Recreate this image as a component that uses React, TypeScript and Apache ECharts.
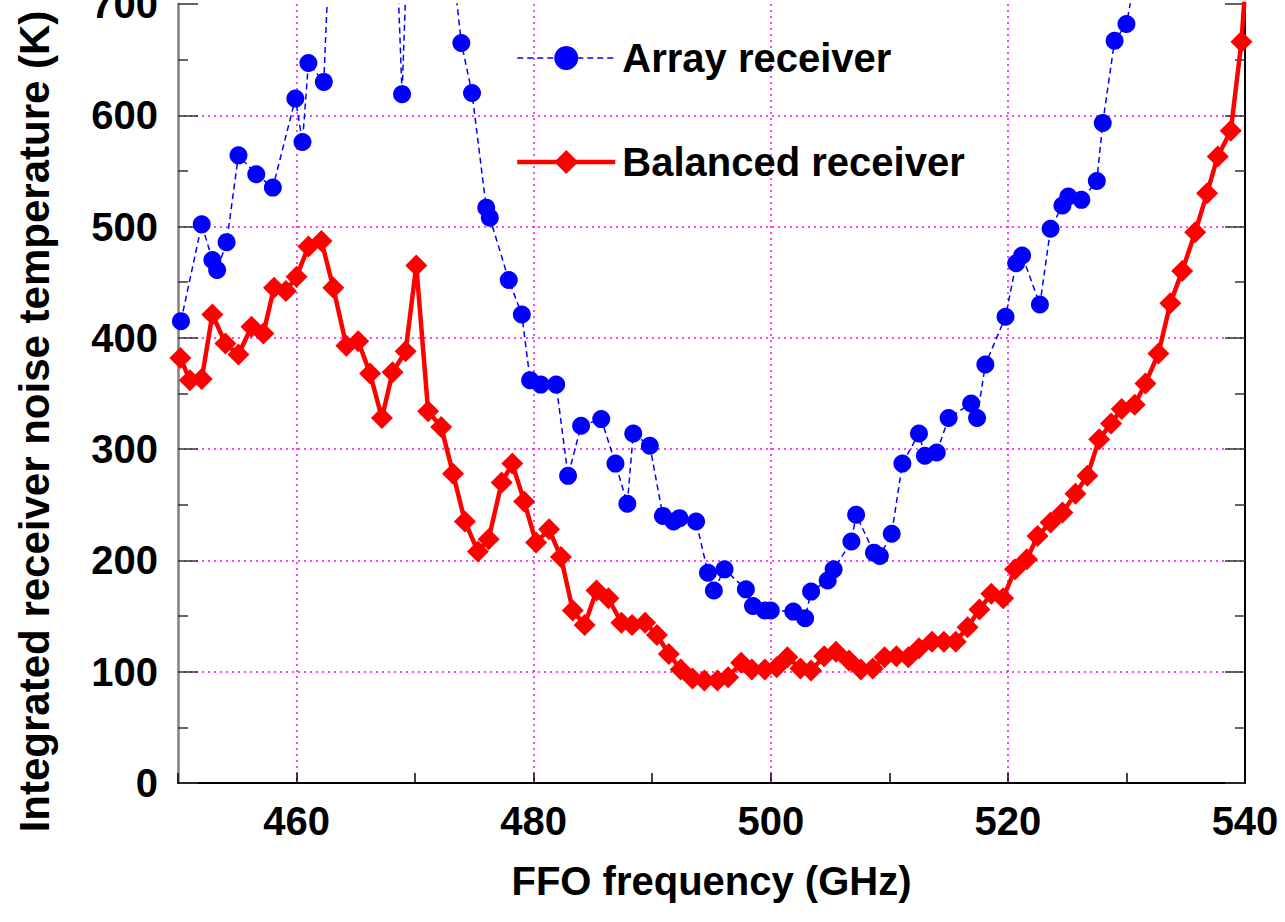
import React, { useEffect, useRef } from "react";
import * as echarts from "echarts";

// FFO frequency (GHz) and noise temperature (K) — Array receiver
const arrayFreq = [
  450.25, 452.0, 452.9, 453.3, 454.1, 455.1, 456.6, 458.0, 459.9, 460.5, 461.0, 462.3,
  463.5, 465.0, 466.5, 467.7, 468.9, 470.1, 471.4, 472.7, 473.9, 474.8, 476.0, 476.3,
  477.9, 479.0, 479.7, 480.6, 481.9, 482.9, 484.0, 485.7, 486.9, 487.9, 488.4, 489.8,
  490.9, 491.8, 492.3, 493.7, 494.7, 495.2, 496.1, 497.9, 498.5, 499.5, 500.0, 501.9,
  502.9, 503.4, 504.8, 505.3, 506.8, 507.2, 508.7, 509.2, 510.2, 511.1, 512.5, 513.0,
  514.0, 515.0, 516.9, 517.4, 518.1, 519.8, 520.7, 521.2, 522.7, 523.6, 524.6, 525.1,
  526.2, 527.5, 528.0, 529.0, 530.0, 531.1,
];
const arrayTemp = [
  415, 502, 470, 461, 486, 564, 547, 535, 615, 576, 647, 630,
  940, 1060, 1010, 960, 619, 980, 1030, 780, 665, 620, 517, 508,
  452, 421, 362, 358, 358, 276, 321, 327, 287, 251, 314, 303,
  240, 235, 238, 235, 189, 173, 192, 174, 159, 155, 155, 154,
  148, 172, 182, 192, 217, 241, 207, 204, 224, 287, 314, 294,
  297, 328, 341, 328, 376, 419, 467, 474, 430, 498, 519, 527,
  524, 541, 593, 667, 682, 745,
];

// Balanced receiver
const balFreq = [
  450.2, 451.0, 452.0, 452.9, 454.0, 455.1, 456.2, 457.2, 458.1, 459.1, 460.0, 461.0,
  462.1, 463.1, 464.2, 465.2, 466.2, 467.2, 468.1, 469.2, 470.1, 471.1, 472.2, 473.2,
  474.2, 475.3, 476.2, 477.3, 478.2, 479.2, 480.2, 481.3, 482.3, 483.3, 484.3, 485.3,
  486.3, 487.4, 488.3, 489.4, 490.4, 491.4, 492.4, 493.4, 494.4, 495.5, 496.4, 497.5,
  498.4, 499.5, 500.5, 501.4, 502.5, 503.4, 504.5, 505.5, 506.6, 507.6, 508.6, 509.6,
  510.6, 511.6, 512.5, 513.6, 514.6, 515.6, 516.6, 517.6, 518.6, 519.6, 520.6, 521.6,
  522.5, 523.6, 524.6, 525.7, 526.7, 527.7, 528.7, 529.6, 530.7, 531.6, 532.7, 533.7,
  534.7, 535.8, 536.8, 537.7, 538.8, 539.7, 540.7,
];
const balTemp = [
  382, 362, 363, 421, 395, 385, 410, 404, 445, 442, 455, 482,
  487, 445, 393, 397, 368, 328, 369, 388, 465, 334, 320, 278,
  235, 208, 219, 270, 287, 253, 216, 228, 203, 155, 142, 173,
  166, 144, 142, 144, 133, 116, 102, 94, 92, 92, 95, 108,
  102, 102, 104, 113, 103, 101, 114, 118, 110, 102, 103, 113,
  114, 113, 121, 127, 127, 127, 140, 156, 170, 166, 192, 201,
  222, 234, 243, 260, 276, 309, 323, 336, 340, 359, 386, 431,
  460, 495, 530, 563, 586, 666, 820,
];

const seriesNames = ["Array receiver", "Balanced receiver"];
const xLabelStep = 20;

const FONT = "'Liberation Sans', Arial, Helvetica, sans-serif";

export default function App() {
  const ref = useRef<HTMLDivElement>(null);

  useEffect(() => {
    if (!ref.current) return;
    const chart = echarts.init(ref.current, null, { renderer: "svg" });

    const arrayData = arrayFreq.map((f, i) => [f, arrayTemp[i]]);
    const balData = balFreq.map((f, i) => [f, balTemp[i]]);

    const gridDotted = { color: "#FF00FF", width: 1.5, type: [2, 4] as any };

    const option: any = {
      animation: false,
      backgroundColor: "#ffffff",
      grid: {
        left: 178,
        right: 40,
        top: 4,
        bottom: 139,
        containLabel: false,
        outerBoundsMode: "none",
      },
      legend: {
        orient: "vertical",
        left: 510,
        top: 33,
        itemWidth: 98,
        itemHeight: 30,
        itemGap: 64,
        data: [
          { name: seriesNames[0], lineStyle: { width: 1.5, type: [6, 4], color: "#0000FF" } },
          { name: seriesNames[1], lineStyle: { width: 4.5, type: "solid", color: "#FF0000" } },
        ],
        textStyle: {
          fontSize: 40,
          fontWeight: "bold",
          color: "#000",
          fontFamily: FONT,
          lineHeight: 40,
          padding: [0, 0, 0, 2],
        },
      },
      xAxis: [
        {
          type: "value",
          position: "bottom",
          min: 450,
          max: 540,
          interval: 10,
          name: "FFO frequency (GHz)",
          nameLocation: "middle",
          nameGap: 78,
          nameTextStyle: { fontSize: 40, fontWeight: "bold", color: "#000", fontFamily: FONT },
          axisLine: { show: true, lineStyle: { color: "#000", width: 2 } },
          axisTick: { show: true, inside: true, length: 10, lineStyle: { color: "#000", width: 1.5 } },
          axisLabel: {
            fontSize: 40,
            fontWeight: "bold",
            color: "#000",
            fontFamily: FONT,
            margin: 18,
            formatter: (v: number) => (v % xLabelStep === 0 && v !== 450 ? String(v) : ""),
          },
          splitLine: {
            show: true,
            showMinLine: false,
            showMaxLine: false,
            lineStyle: { ...gridDotted, color: ["#FF00FF", "rgba(0,0,0,0)"] },
          },
        },
        {
          type: "value",
          position: "top",
          min: 450,
          max: 540,
          interval: 20,
          axisLine: { show: false },
          axisTick: { show: false },
          axisLabel: { show: false },
          splitLine: { show: false },
        },
      ],
      yAxis: [
        {
          type: "value",
          position: "left",
          min: 0,
          max: 700,
          interval: 100,
          name: "Integrated receiver noise temperature (K)",
          nameLocation: "middle",
          nameGap: 123,
          nameTextStyle: {
            fontSize: 42,
            fontWeight: "bold",
            color: "#000",
            fontFamily: FONT,
            padding: [0, 56, 0, 0],
          },
          axisLine: { show: true, lineStyle: { color: "#808080", width: 2.5 } },
          axisTick: { show: true, inside: true, length: 20, lineStyle: { color: "#333", width: 1.5 } },
          minorTick: { show: true, splitNumber: 2, length: 10, lineStyle: { color: "#333", width: 1.5 } },
          axisLabel: {
            fontSize: 40,
            fontWeight: "bold",
            color: "#000",
            fontFamily: FONT,
            margin: 20,
          },
          splitLine: { show: true, showMinLine: false, showMaxLine: false, lineStyle: gridDotted },
        },
        {
          type: "value",
          position: "right",
          min: 0,
          max: 700,
          interval: 100,
          axisLine: { show: true, lineStyle: { color: "#000", width: 2 } },
          axisTick: { show: true, inside: true, length: 20, lineStyle: { color: "#333", width: 1.5 } },
          minorTick: { show: true, splitNumber: 2, length: 10, lineStyle: { color: "#333", width: 1.5 } },
          axisLabel: { show: false },
          splitLine: { show: false },
        },
      ],
      series: [
        {
          name: seriesNames[0],
          type: "line",
          xAxisIndex: 0,
          yAxisIndex: 0,
          data: arrayData,
          clip: true,
          symbol: "circle",
          symbolSize: 18,
          itemStyle: { color: "#0000FF" },
          lineStyle: { color: "#0000FF", width: 1.5, type: [6, 4] },
          z: 2,
        },
        {
          name: seriesNames[1],
          type: "line",
          xAxisIndex: 0,
          yAxisIndex: 0,
          data: balData,
          clip: true,
          symbol: "diamond",
          symbolSize: 22,
          itemStyle: { color: "#FF0000" },
          lineStyle: { color: "#FF0000", width: 4.5 },
          z: 3,
        },
      ],
    };

    chart.setOption(option);
    return () => chart.dispose();
  }, []);

  return (
    <div
      ref={ref}
      style={{ position: "fixed", left: 0, top: 0, width: 1285, height: 922, background: "#fff" }}
    />
  );
}
